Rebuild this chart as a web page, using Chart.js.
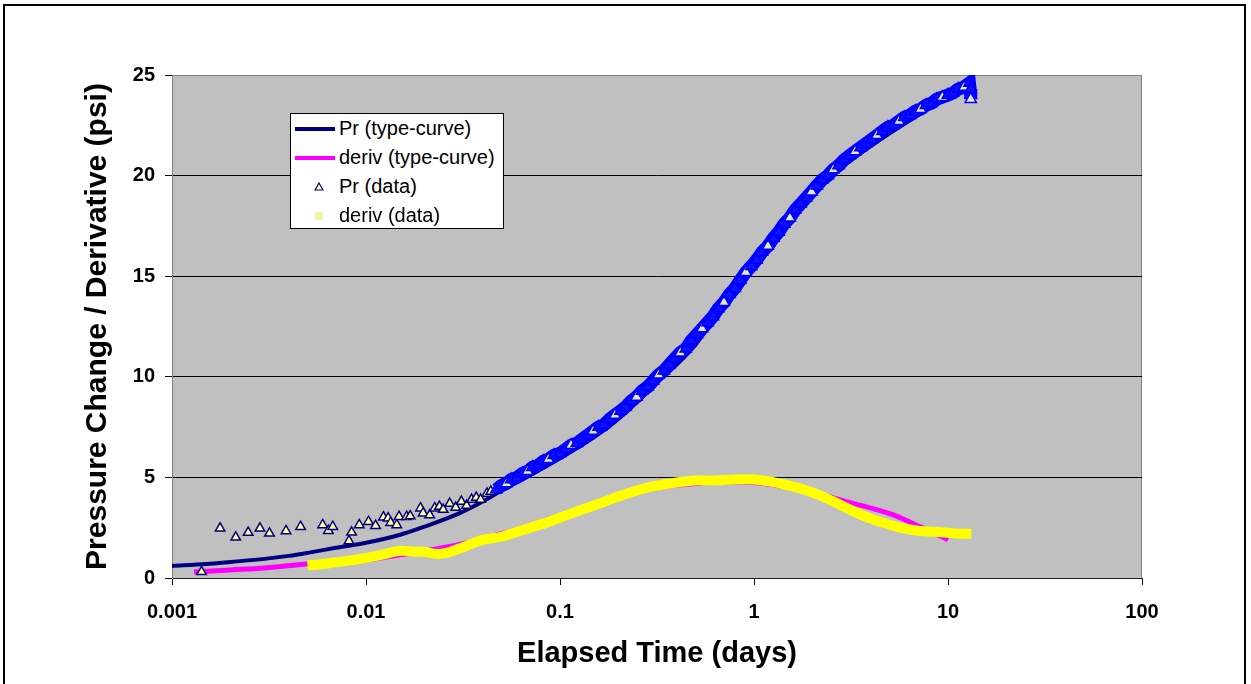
<!DOCTYPE html>
<html>
<head>
<meta charset="utf-8">
<title>Pressure Change / Derivative</title>
<script src="https://cdn.jsdelivr.net/npm/chart.js@4/dist/chart.umd.min.js"></script>
<style>
  body { margin: 0; background: #fff; overflow: hidden; }
  #wrap { position: relative; width: 1251px; height: 684px; }
  #frame { position: absolute; left: 3px; top: 4px; width: 1239px; height: 720px; border: 2px solid #000; pointer-events: none; }
  #legend { position: absolute; left: 290px; top: 113px; width: 212px; height: 114px; background: #fff; border: 1px solid #000;
            font: 20px "Liberation Sans", Arial, sans-serif; color: #000; }
  #legend .row { position: relative; height: 29px; line-height: 29px; white-space: nowrap; }
  #legend .row span.txt { position: absolute; left: 48px; top: 0; }
  #legend .sw { position: absolute; }
</style>
</head>
<body>
<div id="wrap">
  <canvas id="chart" width="1251" height="684"></canvas>
  <div id="legend"></div>
  <div id="frame"></div>
</div>
<script>
// series names
const seriesNames = ["Pr (type-curve)", "deriv (type-curve)", "Pr (data)", "deriv (data)"];

// Pr type-curve
const prCurveT = [0.001, 0.0015, 0.002, 0.003, 0.004, 0.005, 0.007, 0.01, 0.015, 0.02, 0.03, 0.04, 0.05, 0.07, 0.1, 0.15, 0.2, 0.3, 0.5, 0.7, 1, 1.5, 2, 3, 5, 7, 10, 13];
const prCurveV = [0.6, 0.7, 0.8, 0.95, 1.1, 1.25, 1.5, 1.75, 2.15, 2.55, 3.2, 3.8, 4.35, 5.1, 5.95, 7.0, 7.9, 9.5, 11.6, 13.6, 15.6, 17.8, 19.2, 20.6, 22.1, 23.0, 23.9, 24.4];

// deriv type-curve
const derivCurveT = [0.0013, 0.002, 0.003, 0.005, 0.007, 0.01, 0.015, 0.02, 0.03, 0.05, 0.07, 0.1, 0.15, 0.2, 0.3, 0.5, 0.7, 1, 1.5, 2, 3, 5, 7, 10];
const derivCurveV = [0.3, 0.4, 0.5, 0.7, 0.8, 0.9, 1.15, 1.35, 1.65, 2.2, 2.6, 3.0, 3.6, 4.0, 4.45, 4.7, 4.75, 4.75, 4.5, 4.25, 3.8, 3.2, 2.6, 1.9];

// Pr data (early scatter, then dense band)
const prDataT = [0.00142, 0.00177, 0.00213, 0.00247, 0.00284, 0.00318, 0.00387, 0.0046, 0.00598, 0.0064, 0.00674, 0.00817, 0.00843, 0.00923,
  0.0103, 0.0112, 0.0123, 0.013, 0.0134, 0.0144, 0.0148, 0.0162, 0.0169, 0.0191, 0.0197, 0.0213, 0.0226, 0.0239,
  0.025, 0.027, 0.029, 0.031, 0.033, 0.035, 0.037, 0.039, 0.042, 0.044, 0.047, 0.05, 0.053, 0.056, 0.06, 0.064, 0.068,
  0.072, 0.077, 0.082, 0.087, 0.093, 0.1, 0.107, 0.114, 0.122, 0.13, 0.139, 0.148, 0.158, 0.168, 0.18, 0.192, 0.205,
  0.218, 0.233, 0.248, 0.265, 0.283, 0.302, 0.322, 0.343, 0.366, 0.39, 0.417, 0.445, 0.475, 0.507, 0.54, 0.577, 0.615,
  0.656, 0.7, 0.747, 0.797, 0.85, 0.907, 0.968, 1.03, 1.1, 1.18, 1.26, 1.34, 1.43, 1.53, 1.63, 1.74, 1.86, 1.98, 2.11,
  2.25, 2.4, 2.56, 2.73, 2.92, 3.11, 3.32, 3.54, 3.78, 4.03, 4.3, 4.59, 4.9, 5.23, 5.58, 5.95, 6.35, 6.77, 7.22, 7.7,
  8.22, 8.77, 9.35, 9.98, 10.6, 11.3, 12.1, 12.9, 13.1, 13.1, 13.1];
const prDataV = [0.31, 2.47, 2.02, 2.26, 2.47, 2.22, 2.34, 2.55, 2.64, 2.35, 2.55, 1.84, 2.27, 2.64,
  2.8, 2.6, 3.02, 2.97, 2.75, 2.64, 3.05, 3.05, 3.08, 3.47, 3.22, 3.13, 3.47, 3.55,
  3.4, 3.7, 3.5, 3.8, 3.6, 3.9, 4.0, 3.9, 4.2, 4.3, 4.4, 4.6, 4.7, 4.9, 5.0, 5.2, 5.3,
  5.5, 5.6, 5.8, 5.9, 6.1, 6.2, 6.4, 6.6, 6.7, 6.9, 7.1, 7.3, 7.5, 7.6, 7.9, 8.1, 8.3,
  8.5, 8.8, 9.0, 9.3, 9.5, 9.8, 10.1, 10.3, 10.6, 10.9, 11.2, 11.4, 11.8, 12.1, 12.4, 12.7, 13.0,
  13.4, 13.7, 14.1, 14.4, 14.8, 15.2, 15.5, 15.8, 16.2, 16.5, 16.9, 17.2, 17.6, 17.9, 18.3, 18.6, 18.9, 19.2, 19.5,
  19.8, 20.0, 20.3, 20.5, 20.8, 21.0, 21.2, 21.4, 21.6, 21.8, 22.0, 22.2, 22.4, 22.5, 22.7, 22.9, 23.0, 23.2, 23.3, 23.5,
  23.6, 23.8, 23.9, 24.0, 24.1, 24.3, 24.4, 24.6, 24.0, 24.3, 23.8];

// deriv data
const derivDataT = [0.005, 0.006, 0.008, 0.01, 0.012, 0.015, 0.018, 0.02, 0.023, 0.026, 0.03, 0.035,
  0.04, 0.05, 0.06, 0.07, 0.085, 0.1, 0.13, 0.16, 0.2, 0.25, 0.3, 0.4, 0.5, 0.6, 0.8, 1.0, 1.2, 1.5, 1.8, 2.2, 2.7, 3.2,
  4, 5, 6, 7, 8.5, 10, 11.5, 13.2];
const derivDataV = [0.62, 0.7, 0.85, 1.0, 1.15, 1.35, 1.3, 1.3, 1.2, 1.25, 1.45, 1.7,
  1.9, 2.05, 2.3, 2.5, 2.75, 3.0, 3.4, 3.7, 4.05, 4.35, 4.55, 4.75, 4.85, 4.85, 4.9, 4.9, 4.8, 4.6, 4.4, 4.1, 3.7, 3.35,
  2.95, 2.65, 2.45, 2.35, 2.3, 2.25, 2.2, 2.2];

// axis ticks
const xTickVals = [0.001, 0.01, 0.1, 1, 10, 100];
const xTickLabels = ["0.001", "0.01", "0.1", "1", "10", "100"];
const yTickVals = [0, 5, 10, 15, 20, 25];

function pairs(xs, ys) {
  return xs.map((x, i) => ({ x: x, y: ys[i] }));
}

const plotBg = {
  id: "plotBg",
  beforeDraw(chart) {
    const a = chart.chartArea;
    const ctx = chart.ctx;
    ctx.save();
    ctx.fillStyle = "#C0C0C0";
    ctx.fillRect(a.left, a.top, a.right - a.left, a.bottom - a.top);
    ctx.strokeStyle = "#808080";
    ctx.lineWidth = 1;
    ctx.strokeRect(a.left + 0.5, a.top + 0.5, a.right - a.left - 1, a.bottom - a.top);
    ctx.restore();
  }
};

const font = "'Liberation Sans', Arial, sans-serif";
const earlyCut = 0.045; // before this the Pr data are loose triangles

const chart = new Chart(document.getElementById("chart"), {
  type: "scatter",
  data: {
    datasets: [
      {
        label: seriesNames[0],
        data: pairs(prCurveT, prCurveV),
        showLine: true,
        borderColor: "#000080",
        borderWidth: 4,
        pointRadius: 0,
        cubicInterpolationMode: "monotone",
        order: 4
      },
      {
        label: seriesNames[1],
        data: pairs(derivCurveT, derivCurveV),
        showLine: true,
        borderColor: "#FF00FF",
        borderWidth: 5,
        pointRadius: 0,
        tension: 0.4,
        order: 3
      },
      {
        label: seriesNames[2],
        data: pairs(prDataT, prDataV),
        showLine: true,
        borderColor: "#0000FF",
        borderWidth: 13,
        segment: {
          borderColor: ctx => ctx.p0.parsed.x < earlyCut ? "rgba(0,0,0,0)" : undefined
        },
        pointStyle: "triangle",
        pointRadius: ctx => (ctx.raw && ctx.raw.x < earlyCut) ? 5.5 : 6.5,
        pointBorderWidth: 1.5,
        pointBorderColor: ctx => (ctx.raw && ctx.raw.x < earlyCut) ? "#000080" : "#0000FF",
        pointBackgroundColor: ctx => {
          if (!ctx.raw) return "#FFFF99";
          if (ctx.raw.x < earlyCut) return "#FFFF99";
          return ctx.dataIndex % 4 === 0 ? "#E8E8C0" : "#1010FF";
        },
        order: 2
      },
      {
        label: seriesNames[3],
        data: pairs(derivDataT, derivDataV),
        showLine: true,
        borderColor: "#FFFF00",
        borderWidth: 10,
        pointRadius: 0,
        tension: 0.3,
        order: 1
      }
    ]
  },
  options: {
    responsive: false,
    devicePixelRatio: 1,
    animation: false,
    layout: { padding: { left: 0, top: 75, right: 109, bottom: 0 } },
    plugins: {
      legend: { display: false },
      tooltip: { enabled: false }
    },
    scales: {
      x: {
        type: "logarithmic",
        min: 0.001,
        max: 100,
        afterBuildTicks: scale => { scale.ticks = xTickVals.map(v => ({ value: v })); },
        afterFit: scale => { scale.height = 106; },
        ticks: {
          autoSkip: false,
          maxRotation: 0,
          padding: 15,
          color: "#000",
          font: { family: font, size: 20, weight: "bold" },
          callback: (v, i) => xTickLabels[i]
        },
        grid: { drawOnChartArea: false, drawTicks: true, tickLength: 7, color: "#000", tickColor: "#000" },
        border: { color: "#202020", width: 1 },
        title: {
          display: true,
          text: "Elapsed Time (days)",
          color: "#000",
          font: { family: font, size: 29, weight: "bold" },
          padding: { top: 0, bottom: 13 }
        }
      },
      y: {
        min: 0,
        max: 25,
        afterBuildTicks: scale => { scale.ticks = yTickVals.map(v => ({ value: v })); },
        afterFit: scale => { scale.width = 172; },
        ticks: {
          padding: 10,
          color: "#000",
          font: { family: font, size: 20, weight: "bold" }
        },
        grid: {
          tickLength: 7,
          color: ctx => (ctx.tick && ctx.tick.value === 25) ? "#808080" : "#000",
          tickColor: "#000",
          lineWidth: 1
        },
        border: { color: "#808080", width: 1 },
        title: {
          display: true,
          text: "Pressure Change / Derivative (psi)",
          color: "#000",
          font: { family: font, size: 30, weight: "bold" },
          padding: { top: 80, bottom: 0 }
        }
      }
    }
  },
  plugins: [plotBg]
});

// html legend built from the datasets
const legend = document.getElementById("legend");
chart.data.datasets.forEach((ds, i) => {
  const row = document.createElement("div");
  row.className = "row";
  let sw;
  if (i < 2) {
    sw = `<span class="sw" style="left:4px;top:13px;width:40px;height:4px;background:${ds.borderColor}"></span>`;
  } else if (i === 2) {
    sw = `<svg class="sw" style="left:23px;top:10px" width="10" height="9"><polygon points="5,1 9,8 1,8" fill="#FFFF99" stroke="#000080" stroke-width="1.2"/></svg>`;
  } else {
    sw = `<span class="sw" style="left:24px;top:11px;width:8px;height:8px;background:#F4F4A8"></span>`;
  }
  row.innerHTML = sw + `<span class="txt">${ds.label}</span>`;
  legend.appendChild(row);
});
</script>
</body>
</html>
